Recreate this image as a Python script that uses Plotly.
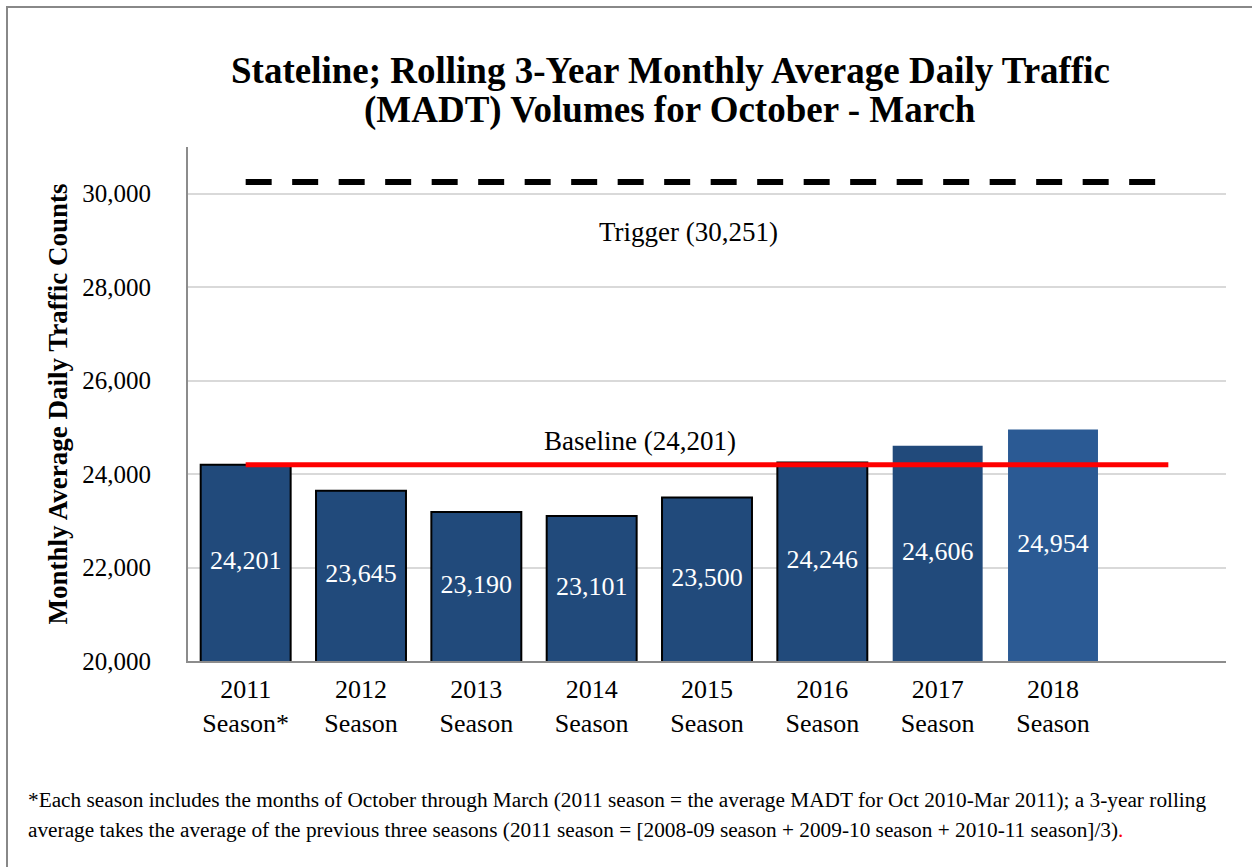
import plotly.graph_objects as go

categories = ["2011<br>Season*", "2012<br>Season", "2013<br>Season", "2014<br>Season",
              "2015<br>Season", "2016<br>Season", "2017<br>Season", "2018<br>Season", " "]
bar_categories = categories[:8]
madt_values = [24201, 23645, 23190, 23101, 23500, 24246, 24606, 24954]
baseline_value = 24201
trigger_value = 30251
y_min, y_max = 20000, 31000
y_ticks = [20000, 22000, 24000, 26000, 28000, 30000]
y_tick_labels = ["20,000", "22,000", "24,000", "26,000", "28,000", "30,000"]

SERIF = "Liberation Serif, Times New Roman, serif"

bar_colors = ["#214A7B"] * 7 + ["#2B5A94"]
bar_line_widths = [2, 2, 2, 2, 2, 2, 0, 0]

W, H = 1252, 867
L, R, T, B = 188, 26, 147, 206
pw, ph = W - L - R, H - T - B


def px_x(x):
    return (x - L) / pw


def px_y(y):
    return (H - B - y) / ph


fig = go.Figure()

fig.add_trace(go.Bar(
    x=bar_categories,
    y=madt_values,
    marker=dict(color=bar_colors, line=dict(color="#000000", width=bar_line_widths)),
    width=0.78,
    showlegend=False,
    hoverinfo="skip",
))

# value labels centred in the visible part of each bar
fig.add_trace(go.Scatter(
    x=bar_categories,
    y=[(v + y_min) / 2 for v in madt_values],
    mode="text",
    text=[f"{v:,}" for v in madt_values],
    textposition="middle center",
    textfont=dict(family=SERIF, size=26, color="white"),
    showlegend=False,
    hoverinfo="skip",
))

fig.add_trace(go.Scatter(
    x=[categories[0], categories[-1]],
    y=[baseline_value, baseline_value],
    mode="lines",
    line=dict(color="#FF0000", width=5),
    showlegend=False,
    hoverinfo="skip",
))

fig.add_trace(go.Scatter(
    x=[categories[0], categories[-1]],
    y=[trigger_value, trigger_value],
    mode="lines",
    line=dict(color="#000000", width=6, dash="26px,20.5px"),
    showlegend=False,
    hoverinfo="skip",
))

fig.add_annotation(x=3.84, y=29177, xref="x", yref="y",
                   text=f"Trigger ({trigger_value:,})", showarrow=False,
                   font=dict(family=SERIF, size=27, color="black"))
fig.add_annotation(x=3.42, y=24706, xref="x", yref="y",
                   text=f"Baseline ({baseline_value:,})", showarrow=False,
                   font=dict(family=SERIF, size=27, color="black"))

# title (two lines placed individually to match line spacing)
fig.add_annotation(x=px_x(670), y=px_y(70), xref="paper", yref="paper",
                   text="<b>Stateline; Rolling 3-Year Monthly Average Daily Traffic</b>",
                   showarrow=False, xanchor="center", yanchor="middle",
                   font=dict(family=SERIF, size=37, color="black"))
fig.add_annotation(x=px_x(670), y=px_y(110), xref="paper", yref="paper",
                   text="<b>(MADT) Volumes for October - March</b>",
                   showarrow=False, xanchor="center", yanchor="middle",
                   font=dict(family=SERIF, size=37, color="black"))

footnote1 = ("*Each season includes the months of October through March (2011 season = the average MADT "
             "for Oct 2010-Mar 2011); a 3-year rolling")
footnote2 = ("average takes the average of the previous three seasons (2011 season = [2008-09 season + "
             "2009-10 season + 2010-11 season]/3)<span style=\"color:red\">.</span>")
fig.add_annotation(x=px_x(26), y=px_y(800), xref="paper", yref="paper", text=footnote1, showarrow=False,
                   xanchor="left", yanchor="middle",
                   font=dict(family=SERIF, size=21.3, color="black"))
fig.add_annotation(x=px_x(26), y=px_y(830), xref="paper", yref="paper", text=footnote2, showarrow=False,
                   xanchor="left", yanchor="middle",
                   font=dict(family=SERIF, size=21.3, color="black"))

fig.add_shape(type="rect", xref="paper", yref="paper",
              x0=px_x(7), x1=px_x(1270), y0=px_y(890), y1=px_y(7),
              line=dict(color="#888888", width=2), fillcolor="rgba(0,0,0,0)", layer="below")

fig.update_layout(
    width=W, height=H,
    margin=dict(l=L, r=R, t=T, b=B, pad=0),
    paper_bgcolor="white",
    plot_bgcolor="white",
    bargap=0.22,
    xaxis=dict(
        type="category",
        categoryorder="array", categoryarray=categories,
        range=[-0.5, 8.5],
        showgrid=False,
        showline=True, linecolor="#8C8C8C", linewidth=2,
        ticks="", tickfont=dict(family=SERIF, size=26, color="black"),
        ticklabelstandoff=4,
    ),
    yaxis=dict(
        range=[y_min, y_max],
        tickvals=y_ticks, ticktext=y_tick_labels,
        showgrid=True, gridcolor="#D9D9D9", gridwidth=2,
        showline=True, linecolor="#8C8C8C", linewidth=2,
        zeroline=False,
        ticks="", tickfont=dict(family=SERIF, size=25, color="black"),
        ticklabelstandoff=30,
        title=dict(text="<b>Monthly Average Daily Traffic Counts</b>", standoff=7,
                   font=dict(family=SERIF, size=27, color="black")),
    ),
)

fig.write_html("out.html", config={"displayModeBar": False},
               post_script="document.body.style.margin='0px';")
